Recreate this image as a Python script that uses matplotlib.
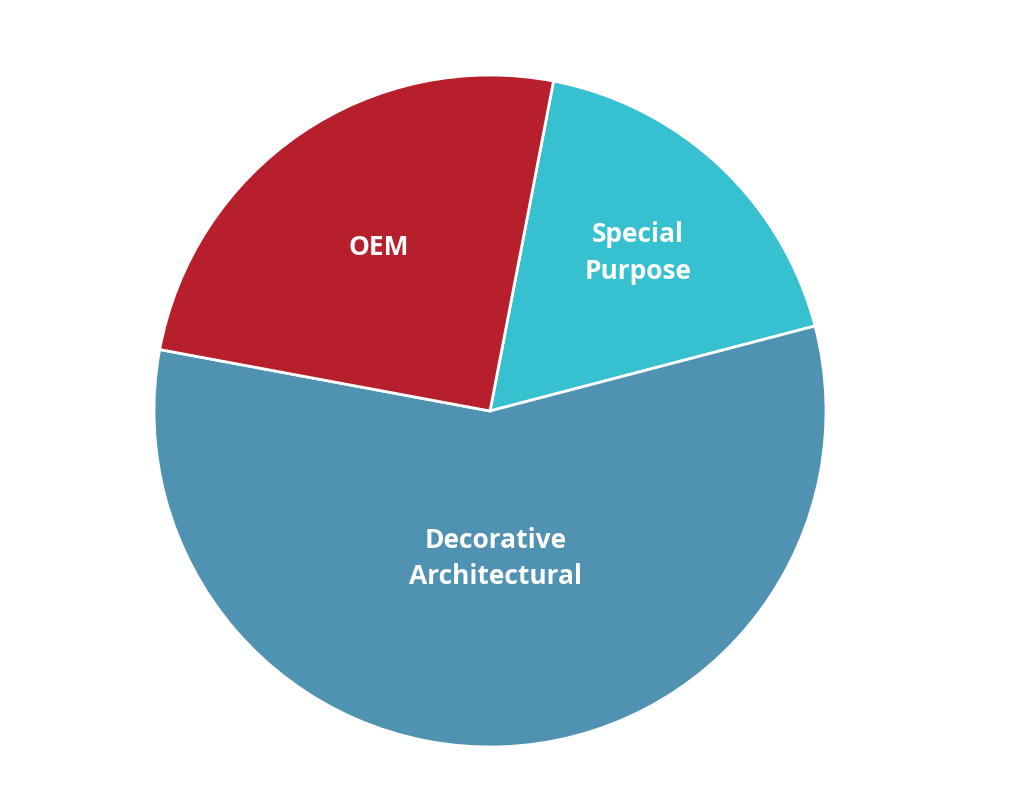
import matplotlib
matplotlib.use("Agg")
import matplotlib.pyplot as plt
import numpy as np

labels = ["Special\nPurpose", "Decorative\nArchitectural", "OEM"]
values = [17.9, 57.0, 25.1]
colors = ["#36C0D0", "#4F92B2", "#B81F2D"]
label_r = [0.645, 0.44, 0.59]

fig = plt.figure(figsize=(10.24, 8.11), dpi=100)
r_px = 336
ax = fig.add_axes([(490 - r_px) / 1024, (811 - 411 - r_px) / 811, 2 * r_px / 1024, 2 * r_px / 811])
wedges, _ = ax.pie(values, colors=colors, startangle=79.1, counterclock=False,
                   wedgeprops=dict(edgecolor="white", linewidth=2))
for w, lab, lr in zip(wedges, labels, label_r):
    mid = np.deg2rad((w.theta1 + w.theta2) / 2)
    ax.text(lr * np.cos(mid), lr * np.sin(mid), lab, ha="center", va="center",
            color="white", fontsize=19, fontweight="bold", family="Open Sans", linespacing=1.45)
ax.set_xlim(-1, 1); ax.set_ylim(-1, 1)
ax.axis("off")
fig.savefig("out.png", dpi=100)
